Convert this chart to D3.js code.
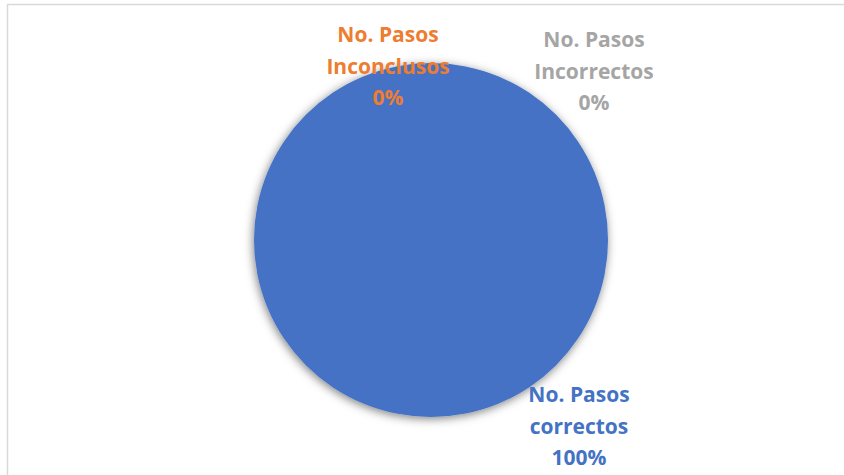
<!DOCTYPE html>
<html>
<head>
<meta charset="utf-8">
<script src="https://cdn.jsdelivr.net/npm/d3@7"></script>
<style>
  body { margin: 0; background: #fff; }
  .lbl { font-family: "Open Sans", sans-serif; font-weight: bold; font-size: 21px; }
</style>
</head>
<body>
<div class="chartCont"></div>
<script>
const w = 844;
const h = 475;

// data
const categories = ["No. Pasos correctos", "No. Pasos Inconclusos", "No. Pasos Incorrectos"];
const values = [100, 0, 0];
const labelLines = [["No. Pasos", "correctos"], ["No. Pasos", "Inconclusos"], ["No. Pasos", "Incorrectos"]];
const colors = ["#4472C4", "#ED7D31", "#A5A5A5"];

const svg = d3.select(".chartCont").append("svg")
    .attr("width", w)
    .attr("height", h);

// chart area border (runs off the right and bottom edge)
svg.append("rect")
    .attr("x", 7.5)
    .attr("y", 4.5)
    .attr("width", w + 20)
    .attr("height", h + 20)
    .attr("fill", "#fff")
    .attr("stroke", "#d9d9d9")
    .attr("stroke-width", 1.5);

const defs = svg.append("defs");
const shadow = defs.append("filter").attr("id", "shadow")
    .attr("x", "-20%").attr("y", "-20%").attr("width", "140%").attr("height", "140%");
shadow.append("feDropShadow")
    .attr("dx", -1).attr("dy", 2)
    .attr("stdDeviation", 5)
    .attr("flood-color", "#000")
    .attr("flood-opacity", 0.5);

const cx = 431, cy = 240, r = 177;

const pie = d3.pie().sort(null).value(d => d);
const arcs = pie(values);
const arc = d3.arc().innerRadius(0).outerRadius(r);

const gEl = svg.append("g").attr("transform", `translate(${cx},${cy})`);

gEl.selectAll("path")
    .data(arcs)
    .enter()
    .append("path")
    .attr("d", arc)
    .attr("fill", (d, i) => colors[i])
    .attr("filter", "url(#shadow)");

const total = d3.sum(values);
const pct = v => Math.round(v / total * 100) + "%";

// label anchor offsets from pie center (first baseline)
const labelPos = [[148, 162], [-43, -198], [163, -193]];
const lineH = 31.5;

const labels = gEl.selectAll("text.lbl")
    .data(arcs)
    .enter()
    .append("text")
    .attr("class", "lbl")
    .attr("text-anchor", "middle")
    .attr("fill", (d, i) => colors[i])
    .attr("x", (d, i) => labelPos[i][0])
    .attr("y", (d, i) => labelPos[i][1]);

labels.each(function(d, i) {
  const t = d3.select(this);
  const lines = labelLines[i].concat([pct(d.data)]);
  lines.forEach((s, j) => {
    t.append("tspan")
      .attr("x", labelPos[i][0])
      .attr("dy", j === 0 ? 0 : lineH)
      .text(s);
  });
});
</script>
</body>
</html>
